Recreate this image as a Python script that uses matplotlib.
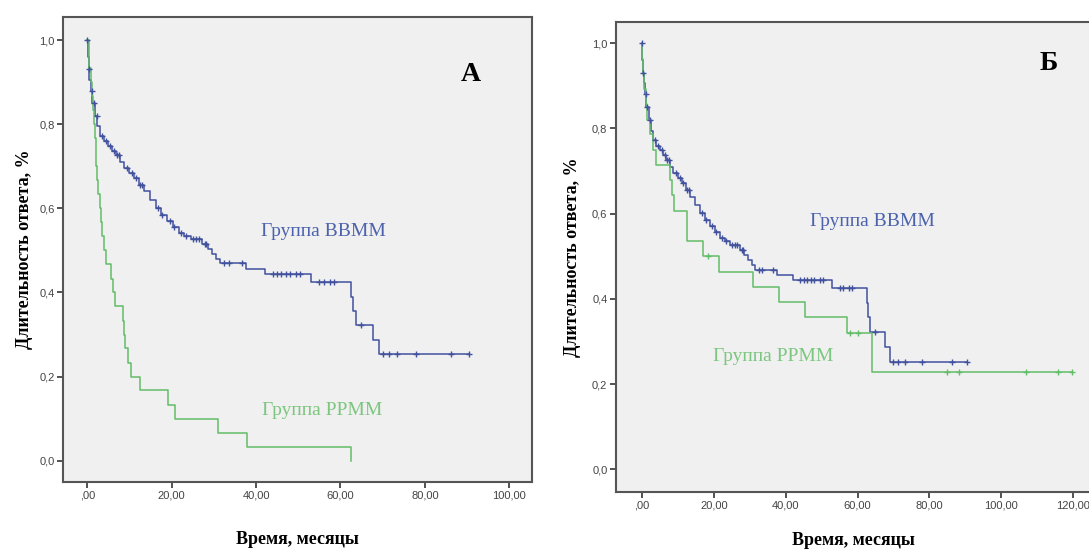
import matplotlib
matplotlib.use("Agg")
import matplotlib.pyplot as plt
import numpy as np

# ---------------- data ----------------
# Group BBMM (same cohort in both panels): Kaplan-Meier steps
bbmm_t = [0, 0.1, 0.3, 0.5, 0.8, 1.2, 1.8, 2.4, 3.1, 4.0, 5.0, 5.9, 6.8, 7.7, 8.7,
          9.9, 11.1, 12.2, 13.4, 14.8, 16.2, 17.5, 18.9, 20.3, 21.7, 23.0, 24.5,
          27.3, 28.5, 29.6, 30.6, 31.5, 37.5, 42.1, 53.0, 62.6, 63.0, 63.6, 67.7, 69.1]
bbmm_s = [1.0, 0.96, 0.93, 0.906, 0.88, 0.851, 0.82, 0.795, 0.773, 0.76, 0.749, 0.737,
          0.726, 0.71, 0.695, 0.683, 0.671, 0.655, 0.64, 0.62, 0.601, 0.585, 0.57,
          0.556, 0.542, 0.535, 0.527, 0.515, 0.503, 0.491, 0.48, 0.469, 0.455, 0.444,
          0.425, 0.39, 0.357, 0.323, 0.288, 0.253]
bbmm_end = 90.4
bbmm_cens = [0, 0.3, 1.0, 1.5, 2.2, 3.5, 4.5, 5.5, 6.3, 7.0, 7.5, 9.5, 10.5, 11.5, 12.5,
             13.0, 16.8, 17.8, 19.5, 20.5, 22.3, 23.5, 25.0, 25.8, 26.5, 27.8, 28.2,
             32.5, 33.5, 36.6, 44.0, 45.0, 46.0, 47.0, 48.0, 49.5, 50.5, 55.0, 56.0,
             57.5, 58.5, 64.9, 70.0, 71.4, 73.3, 77.9, 86.2, 90.4]

# Group PPMM, panel A
ppmm_a_t = [0, 0.3, 0.5, 0.8, 1.0, 1.4, 1.7, 1.8, 2.0, 2.1, 2.2, 2.6, 3.0, 3.2, 3.4,
            3.9, 4.5, 5.7, 6.1, 6.6, 8.5, 8.7, 9.0, 9.7, 10.4, 12.5, 19.2, 20.8,
            31.0, 37.8, 62.6]
ppmm_a_s = [1.0, 0.967, 0.933, 0.9, 0.867, 0.833, 0.8, 0.767, 0.733, 0.7, 0.667, 0.633,
            0.6, 0.567, 0.533, 0.5, 0.467, 0.433, 0.4, 0.367, 0.333, 0.3, 0.267, 0.233,
            0.2, 0.167, 0.133, 0.1, 0.067, 0.033, 0.0]
ppmm_a_end = 62.6

# Group PPMM, panel B
ppmm_b_t = [0, 0.1, 0.3, 0.6, 1.0, 1.5, 2.2, 3.0, 3.8, 7.8, 8.3, 9.0, 12.4, 12.6,
            17.1, 21.3, 31.0, 38.0, 45.4, 57.0, 64.0]
ppmm_b_s = [1.0, 0.964, 0.929, 0.893, 0.857, 0.821, 0.786, 0.75, 0.714, 0.679, 0.643,
            0.607, 0.571, 0.536, 0.5, 0.464, 0.429, 0.393, 0.357, 0.321, 0.229]
ppmm_b_end = 119.8
ppmm_b_cens = [18.5, 57.9, 60.1, 84.9, 88.3, 107.0, 115.7, 119.8]

x_ticks_a = [0, 20, 40, 60, 80, 100]
x_labels_a = [",00", "20,00", "40,00", "60,00", "80,00", "100,00"]
x_ticks_b = [0, 20, 40, 60, 80, 100, 120]
x_labels_b = [",00", "20,00", "40,00", "60,00", "80,00", "100,00", "120,00"]
y_ticks = [0.0, 0.2, 0.4, 0.6, 0.8, 1.0]
y_labels = ["0,0", "0,2", "0,4", "0,6", "0,8", "1,0"]

# ---------------- style ----------------
BLUE = "#41519e"
GREEN = "#62bd68"
BLUE_TXT = "#4c62ad"
GREEN_TXT = "#7cc67f"
BG = "#f0f0f0"
SERIF = ["Liberation Serif", "DejaVu Serif"]
SANS = ["Liberation Sans", "DejaVu Sans"]

fig = plt.figure(figsize=(10.89, 5.52), dpi=100)
axA = fig.add_axes([0.0581, 0.1268, 0.4307, 0.8429])
axB = fig.add_axes([0.5654, 0.1092, 0.4374, 0.8515])


def step_xy(t, s, end):
    return list(t) + [end], list(s) + [s[-1]]


def surv_at(t, s, x):
    idx = np.searchsorted(np.asarray(t), x, side="right") - 1
    return np.asarray(s)[idx]


def draw_curve(ax, t, s, end, cens, color):
    xs, ys = step_xy(t, s, end)
    ax.step(xs, ys, where="post", color=color, lw=1.1, zorder=3)
    if cens:
        cy = [surv_at(t, s, c) for c in cens]
        ax.plot(cens, cy, ls="none", marker="+", ms=4.5, mew=1.0, color=color, zorder=4)


def style_axes(ax, xticks, xlabels, xlim, ylim):
    ax.set_facecolor(BG)
    ax.set_xlim(*xlim)
    ax.set_ylim(*ylim)
    ax.set_xticks(xticks)
    ax.set_xticklabels(xlabels, family=SANS, fontsize=8, color="#444444")
    ax.set_yticks(y_ticks)
    ax.set_yticklabels(y_labels, family=SANS, fontsize=8, color="#444444")
    ax.tick_params(direction="out", length=4, width=1.3, color="#444444", pad=2)
    for sp in ax.spines.values():
        sp.set_color("#555555")
        sp.set_linewidth(1.5)


# Panel A
draw_curve(axA, bbmm_t, bbmm_s, bbmm_end, bbmm_cens, BLUE)
draw_curve(axA, ppmm_a_t, ppmm_a_s, ppmm_a_end, [], GREEN)
style_axes(axA, x_ticks_a, x_labels_a, (-5.69, 105.45), (-0.0506, 1.0554))
axA.text(55.9, 0.546, "Группа ВВММ", color=BLUE_TXT, family=SERIF, fontsize=14,
         ha="center", va="center")
axA.text(55.6, 0.119, "Группа РРММ", color=GREEN_TXT, family=SERIF, fontsize=14,
         ha="center", va="center")
axA.text(90.8, 0.919, "А", color="black", family=SERIF, fontsize=20, fontweight="bold",
         ha="center", va="center")
axA.set_xlabel("Время, месяцы", family=SERIF, fontsize=13, fontweight="bold", labelpad=22)
axA.set_ylabel("Длительность ответа, %", family=SERIF, fontsize=13, fontweight="bold",
               labelpad=5)

# Panel B
draw_curve(axB, bbmm_t, bbmm_s, bbmm_end, bbmm_cens, BLUE)
draw_curve(axB, ppmm_b_t, ppmm_b_s, ppmm_b_end, ppmm_b_cens, GREEN)
style_axes(axB, x_ticks_b, x_labels_b, (-7.33, 125.3), (-0.0526, 1.0507))
axB.text(64.1, 0.582, "Группа ВВММ", color=BLUE_TXT, family=SERIF, fontsize=14,
         ha="center", va="center")
axB.text(36.6, 0.264, "Группа РРММ", color=GREEN_TXT, family=SERIF, fontsize=14,
         ha="center", va="center")
axB.text(113.1, 0.953, "Б", color="black", family=SERIF, fontsize=20, fontweight="bold",
         ha="center", va="center")
axB.set_xlabel("Время, месяцы", family=SERIF, fontsize=13, fontweight="bold", labelpad=16)
axB.set_ylabel("Длительность ответа, %", family=SERIF, fontsize=13, fontweight="bold",
               labelpad=8)

fig.savefig("out.png", dpi=100, facecolor="white")
